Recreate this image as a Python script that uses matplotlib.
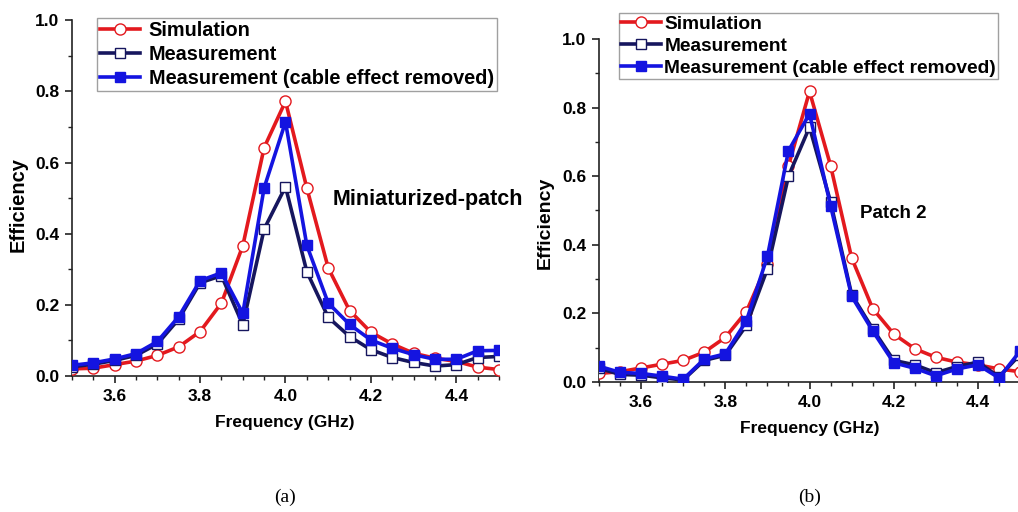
import matplotlib
matplotlib.use("Agg")
import matplotlib.pyplot as plt
from matplotlib.ticker import MultipleLocator, FormatStrFormatter

plt.rcParams['font.family'] = ['Liberation Sans', 'DejaVu Sans']
plt.rcParams['font.weight'] = 'bold'

# data
freq = [3.50, 3.55, 3.60, 3.65, 3.70, 3.75, 3.80, 3.85, 3.90, 3.95, 4.00,
        4.05, 4.10, 4.15, 4.20, 4.25, 4.30, 4.35, 4.40, 4.45, 4.50]

# (a) miniaturized patch
sim_a = [0.020, 0.022, 0.032, 0.042, 0.058, 0.082, 0.125, 0.205, 0.366, 0.642, 0.772,
         0.528, 0.304, 0.184, 0.123, 0.090, 0.064, 0.050, 0.041, 0.025, 0.018]
meas_a = [0.026, 0.033, 0.044, 0.058, 0.090, 0.160, 0.262, 0.282, 0.144, 0.413, 0.532,
          0.293, 0.165, 0.111, 0.074, 0.052, 0.038, 0.028, 0.032, 0.052, 0.055]
cable_a = [0.030, 0.037, 0.048, 0.063, 0.097, 0.167, 0.268, 0.290, 0.176, 0.529, 0.714,
           0.367, 0.205, 0.145, 0.101, 0.078, 0.060, 0.047, 0.047, 0.071, 0.072]

# (b) patch 2
sim_b = [0.025, 0.030, 0.041, 0.052, 0.063, 0.087, 0.130, 0.205, 0.345, 0.630, 0.847,
         0.631, 0.362, 0.214, 0.140, 0.097, 0.072, 0.058, 0.050, 0.038, 0.030]
meas_b = [0.040, 0.022, 0.020, 0.012, 0.006, 0.063, 0.078, 0.165, 0.330, 0.600, 0.743,
          0.525, 0.255, 0.155, 0.063, 0.050, 0.027, 0.045, 0.058, 0.015, 0.080]
cable_b = [0.046, 0.028, 0.025, 0.017, 0.008, 0.067, 0.082, 0.178, 0.366, 0.674, 0.782,
           0.514, 0.250, 0.149, 0.056, 0.040, 0.018, 0.038, 0.050, 0.012, 0.090]

labels = ["Simulation", "Measurement", "Measurement (cable effect removed)"]
xticks = [3.6, 3.8, 4.0, 4.2, 4.4]
yticks = [0.0, 0.2, 0.4, 0.6, 0.8, 1.0]

red = '#e3191e'
navy = '#16165e'
blue = '#1414e0'

fig = plt.figure(figsize=(10.18, 5.12), dpi=100)
ax1 = fig.add_axes([0.0707, 0.2656, 0.4195, 0.695])
ax2 = fig.add_axes([0.5884, 0.2539, 0.4136, 0.670])


def draw(ax, sim, meas, cable):
    ax.plot(freq, sim, color=red, lw=2.6, marker='o', ms=8, mfc='white',
            mec=red, mew=1.0, label=labels[0], zorder=3)
    ax.plot(freq, meas, color=navy, lw=2.6, marker='s', ms=7, mfc='white',
            mec=navy, mew=1.0, label=labels[1], zorder=4)
    ax.plot(freq, cable, color=blue, lw=2.6, marker='s', ms=7, mfc=blue,
            mec=blue, label=labels[2], zorder=5)
    ax.set_xlim(3.5, 4.5)
    ax.set_ylim(0, 1.0)
    ax.set_xticks(xticks)
    ax.set_yticks(yticks)
    ax.xaxis.set_minor_locator(MultipleLocator(0.05))
    ax.yaxis.set_minor_locator(MultipleLocator(0.1))
    ax.xaxis.set_major_formatter(FormatStrFormatter('%.1f'))
    ax.yaxis.set_major_formatter(FormatStrFormatter('%.1f'))
    for s in ['top', 'right']:
        ax.spines[s].set_visible(False)
    for s in ['left', 'bottom']:
        ax.spines[s].set_linewidth(1.2)
        ax.spines[s].set_color('#222222')
    ax.tick_params(which='major', direction='out', length=5, width=1.2,
                   labelsize=12.5, color='#222222', pad=4)
    ax.tick_params(which='minor', direction='out', length=3, width=1.0,
                   color='#222222')
    for lab in ax.get_xticklabels() + ax.get_yticklabels():
        lab.set_fontweight('bold')


draw(ax1, sim_a, meas_a, cable_a)
draw(ax2, sim_b, meas_b, cable_b)

# legends
h, l = ax1.get_legend_handles_labels()
leg1 = fig.legend(h, l, loc='upper left', bbox_to_anchor=(0.0953, 0.965),
                  fontsize=14.3, frameon=True, fancybox=False, borderpad=0.15,
                  handlelength=2.0, handletextpad=0.45, labelspacing=0.25,
                  borderaxespad=0)
leg1.get_frame().set_edgecolor('#888888')
leg1.get_frame().set_linewidth(1.0)

h, l = ax2.get_legend_handles_labels()
leg2 = fig.legend(h, l, loc='upper left', bbox_to_anchor=(0.608, 0.975),
                  fontsize=13.8, frameon=True, fancybox=False, borderpad=0.12,
                  handlelength=2.1, handletextpad=0.15, labelspacing=0.25,
                  borderaxespad=0)
leg2.get_frame().set_edgecolor('#888888')
leg2.get_frame().set_linewidth(1.0)

# annotations
fig.text(333 / 1018, 1 - 200 / 512, "Miniaturized-patch", fontsize=15.5,
         fontweight='bold', ha='left', va='center')
fig.text(860 / 1018, 1 - 213 / 512, "Patch 2", fontsize=13.5,
         fontweight='bold', ha='left', va='center')

# axis labels
fig.text(18 / 1018, 1 - 205 / 512, "Efficiency", fontsize=14.5, fontweight='bold',
         rotation=90, ha='center', va='center')
fig.text(545 / 1018, 1 - 223 / 512, "Efficiency", fontsize=14, fontweight='bold',
         rotation=90, ha='center', va='center')
fig.text(285 / 1018, 1 - 423 / 512, "Frequency (GHz)", fontsize=12.5,
         fontweight='bold', ha='center', va='center')
fig.text(810 / 1018, 1 - 428 / 512, "Frequency (GHz)", fontsize=12.5,
         fontweight='bold', ha='center', va='center')

# captions
fig.text(285 / 1018, 1 - 497 / 512, "(a)", fontsize=14, fontweight='normal',
         family='Liberation Serif', ha='center', va='center')
fig.text(810 / 1018, 1 - 497 / 512, "(b)", fontsize=14, fontweight='normal',
         family='Liberation Serif', ha='center', va='center')

fig.savefig("out.png", dpi=100)
